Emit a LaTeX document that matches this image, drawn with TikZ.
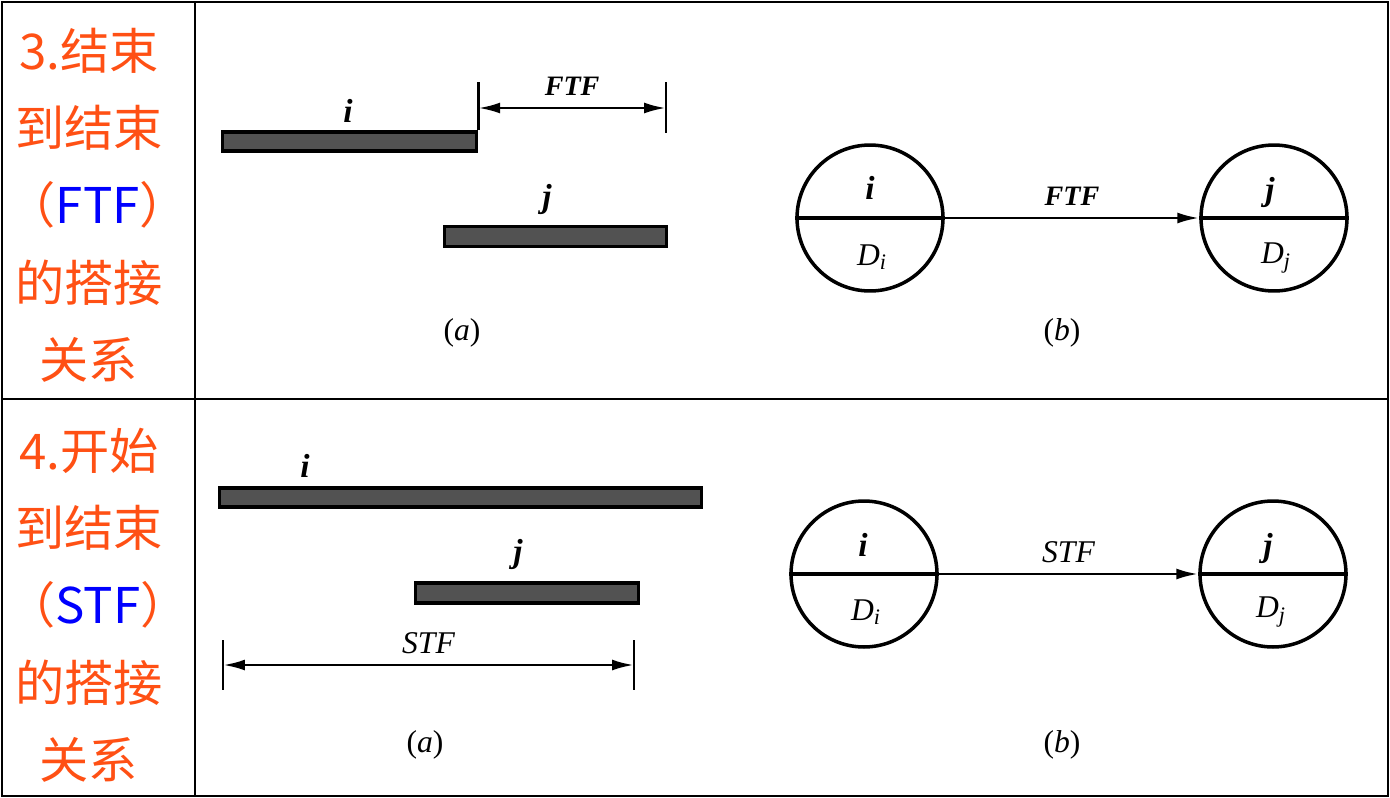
\documentclass[tikz,border=0pt]{standalone}
\usepackage{fontspec}
\setmainfont{Liberation Serif}
\newfontfamily\cjk{Noto Sans CJK SC}
\usetikzlibrary{arrows.meta,positioning}
\definecolor{orange}{RGB}{255,80,20}
\definecolor{blue}{RGB}{0,0,255}
\definecolor{bargray}{RGB}{82,82,82}
\tikzset{
  bar/.style={draw,line width=2pt,fill=bargray,inner sep=0pt},
  act/.style={draw,circle,line width=2pt,minimum size=2.92cm,inner sep=0pt},
  ltr/.style={font=\fontsize{19}{22}\selectfont\itshape\bfseries},
  lbl/.style={font=\fontsize{16}{19}\selectfont\itshape\bfseries},
  dlbl/.style={font=\fontsize{18}{21}\selectfont\itshape},
  sublbl/.style={font=\fontsize{18}{21}\selectfont},
  side/.style={font=\cjk\fontsize{28}{44}\selectfont,text=orange,align=center},
  dim/.style={line width=1.6pt},
  mid/.style={line width=2pt},
}

\begin{document}
\begin{tikzpicture}[x=0.02cm,y=-0.02cm,>={Latex[length=0.44cm,width=0.22cm]}]
\useasboundingbox (0,0) rectangle (1390,798);
% table frame
\draw[line width=1.2pt] (2,2) rectangle (1388,796);
\draw[line width=1.2pt] (195,2) -- (195,796);
\draw[line width=1.2pt] (2,399) -- (1388,399);
\node[side] (ftfname) at (89,205) {3.结束\\到结束\\\hspace*{10pt}（{\color{blue}FTF}）\\的搭接\\关系};
\node[side] (stfname) at (89,605) {4.开始\\到结束\\\hspace*{10pt}（{\color{blue}STF}）\\的搭接\\关系};

% FTF (a)
\node[bar,minimum width=5.08cm,minimum height=0.38cm] (ibar) at (349.5,141.5) {};
\node[bar,minimum width=4.44cm,minimum height=0.4cm] (jbar) at (555.5,236.5) {};
\node[ltr] (ilbl) at (348,111) {i};
\node[ltr] (jlbl) at (547,199) {j};
\coordinate (ftfr) at (666,82); \coordinate (ftfrb) at (666,133);
\coordinate (ftfl) at (ibar.north east |- ftfr);
\coordinate (ftfb) at (666,108); \coordinate (ftfa) at (ibar.north east |- ftfb);
\draw[dim] (ibar.north east) -- (ftfl);
\draw[dim] (ftfr) -- (ftfrb);
\draw[dim,<->] (ftfa) -- node[lbl,above=3pt] {FTF} (ftfb);
\node[sublbl] (capa) at (462,333) {(\textit{a})};

% FTF (b)
\node[act] (ci) at (870,218) {};
\node[act] (cj) at (1274,218) {};
\draw[mid] (ci.west) -- (ci.east);
\draw[mid] (cj.west) -- (cj.east);
\node[ltr] (cilbl) at (870,188) {i};
\node[dlbl] (cidur) at (872,257) {D\textsubscript{i}};
\node[ltr] (cjlbl) at (1270,192) {j};
\node[dlbl] (cjdur) at (1276,258) {D\textsubscript{j}};
\draw[dim,->] (ci.east) -- node[lbl,above=3pt] {FTF} (cj.west);
\node[sublbl] (capb) at (1062,333) {(\textit{b})};

% STF (a)
\node[bar,minimum width=9.64cm,minimum height=0.38cm] (ibarb) at (460.5,497.5) {};
\node[bar,minimum width=4.46cm,minimum height=0.4cm] (jbarb) at (527,593) {};
\node[ltr] (ilblb) at (305,466) {i};
\node[ltr] (jlblb) at (518,554) {j};
\coordinate (stflt) at (223,640); \coordinate (stflb) at (223,690);
\coordinate (stfrt) at (634,640); \coordinate (stfrb) at (634,690);
\coordinate (stfa) at (223,665); \coordinate (stfb) at (634,665);
\draw[dim] (stflt) -- (stflb);
\draw[dim] (stfrt) -- (stfrb);
\draw[dim,<->] (stfa) -- node[dlbl,above=2pt] {STF} (stfb);
\node[sublbl] (capab) at (425,745) {(\textit{a})};

% STF (b)
\node[act] (cib) at (864,574) {};
\node[act] (cjb) at (1273,574) {};
\draw[mid] (cib.west) -- (cib.east);
\draw[mid] (cjb.west) -- (cjb.east);
\node[ltr] (cilblb) at (863,545) {i};
\node[dlbl] (cidurb) at (866,612) {D\textsubscript{i}};
\node[ltr] (cjlblb) at (1268,548) {j};
\node[dlbl] (cjdurb) at (1271,612) {D\textsubscript{j}};
\draw[dim,->] (cib.east) -- node[dlbl,above=2pt] {STF} (cjb.west);
\node[sublbl] (capbb) at (1062,745) {(\textit{b})};
\end{tikzpicture}
\end{document}
